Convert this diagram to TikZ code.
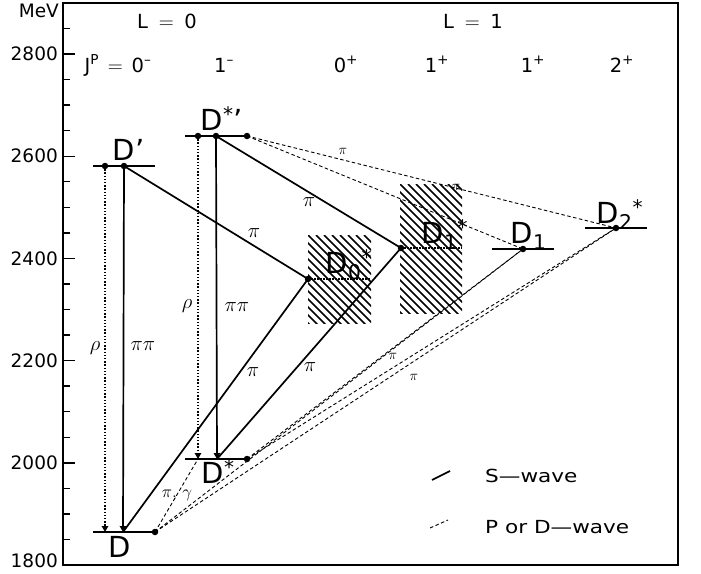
\documentclass[tikz,border=0pt]{standalone}
\usepackage{fontspec}
\setmainfont{DejaVu Sans}
\usepackage{graphicx}
\usetikzlibrary{arrows.meta}
\newcommand{\lvlstar}{\raisebox{8.5pt}{\fontsize{20}{20}\selectfont *}}
\begin{document}
\begin{tikzpicture}[x=1pt,y=-1pt,
  lvl/.style={line width=2.8pt},
  sw/.style={line width=1.7pt},
  pw/.style={line width=0.9pt, dash pattern=on 3.5pt off 2.5pt},
  rhol/.style={line width=1.3pt, dash pattern=on 1.4pt off 1.8pt},
  dotlvl/.style={line width=1.8pt, dash pattern=on 1.6pt off 1.4pt},
  hatch/.style={line width=1.7pt},
  dotn/.style={circle,fill,inner sep=0pt,minimum size=6.5pt},
  arr/.style={-{Triangle[length=6pt,width=6.5pt]}},
  lab/.style={font=\fontsize{29}{31}\selectfont, inner sep=0pt, anchor=base},
  ax/.style={font=\fontsize{18.5}{20}\selectfont, inner sep=0pt},
  hd/.style={font=\fontsize{19.5}{21}\selectfont, inner sep=0pt},
  pil/.style={font=\fontsize{20}{22}\selectfont, inner sep=0pt},
  spil/.style={font=\fontsize{14}{16}\selectfont, inner sep=0pt},
  leg/.style={font=\fontsize{18}{20}\selectfont, inner sep=0pt, anchor=west}
]
\useasboundingbox (0,0) rectangle (701,573);
% frame
\draw[line width=1.8pt] (63,3) rectangle (678,565);
% ticks
\foreach \m in {1850,1900,...,2850} {
  \pgfmathsetmacro\yy{565-(\m-1800)*0.511}
  \draw[line width=1.4pt] (63,\yy) -- (70,\yy);
}
\foreach \m in {2000,2200,...,2800} {
  \pgfmathsetmacro\yy{565-(\m-1800)*0.511}
  \draw[line width=1.4pt] (63,\yy) -- (75,\yy);
  \node[ax,anchor=east] (t\m) at (58,\yy) {\m};
}
\node[ax,anchor=east] (t1800) at (58,561) {1800};
\node[ax,anchor=north east] (mev) at (59,4) {MeV};
% header
\node[hd] (L0) at (167,21) {L\hspace{0.55em}$=$\hspace{0.55em}0};
\node[hd] (L1) at (473,21) {L\hspace{0.55em}$=$\hspace{0.55em}1};
\node[hd,anchor=base] (jp) at (118,72) {J\textsuperscript{P}\hspace{0.45em}$=$\hspace{0.45em}0\textsuperscript{--}};
\node[hd,anchor=base] (j1) at (224,72) {1\textsuperscript{--}};
\node[hd,anchor=base] (j2) at (346,72) {0\textsuperscript{+}};
\node[hd,anchor=base] (j3) at (437,72) {1\textsuperscript{+}};
\node[hd,anchor=base] (j4) at (533,72) {1\textsuperscript{+}};
\node[hd,anchor=base] (j5) at (622,72) {2\textsuperscript{+}};

% level coordinates
\coordinate (Dpa) at (105,166);
\coordinate (Dpb) at (124,166);
\coordinate (Da) at (105,532);
\coordinate (Db) at (123,532);
\coordinate (Dc) at (155,532);
\coordinate (Dspa) at (198,136);
\coordinate (Dspb) at (216,136);
\coordinate (Dspc) at (247,136);
\coordinate (Dsa) at (198,459);
\coordinate (Dsb) at (217,459);
\coordinate (Dsc) at (247,459);
\coordinate (Dzs) at (308,279);
\coordinate (Dos) at (401,248);
\coordinate (Do) at (523,249);
\coordinate (Dts) at (616,228);

% dashed P/D-wave transitions
\draw[pw] (Dspc) -- (Dts);
\draw[pw] (Dspc) -- (Do);
\draw[pw] (Dc) -- (Dsa);
\draw[pw] (Dc) -- (Do);
\draw[pw] (Dc) -- (Dts);
\draw[pw] (Dsc) -- (Do);
\draw[pw] (Dsc) -- (Dts);

% hatched boxes
\begin{scope}
\clip (308,235) rectangle (371,323);
\foreach \k in {-96,-88,...,64} \draw[hatch] (308+\k,235) -- ++(120,120);
\end{scope}
\begin{scope}
\clip (400,184) rectangle (462,313);
\foreach \k in {-136,-128,...,64} \draw[hatch] (400+\k,184) -- ++(150,150);
\end{scope}

% levels
\draw[lvl] (93,166) -- (155,166);
\draw[lvl] (93,532) -- (Dc);
\draw[lvl] (185,136) -- (Dspc);
\draw[lvl] (185,459) -- (Dsc);
\draw[dotlvl] (Dzs) -- (370,279);
\draw[dotlvl] (Dos) -- (462,248);
\draw[lvl] (492,249) -- (554,249);
\draw[lvl] (585,228) -- (647,228);

% vertical transitions
\draw[rhol,arr] (Dpa) -- (Da);
\draw[sw,arr] (Dpb) -- (Db);
\draw[rhol,arr] (Dspa) -- (Dsa);
\draw[sw,arr] (Dspb) -- (Dsb);

% solid S-wave transitions
\draw[sw] (Dpb) -- (Dzs);
\draw[sw] (Dspb) -- (Dos);
\draw[sw] (Db) -- (Dzs);
\draw[sw] (Dsb) -- (Dos);

% dots
\foreach \c in {Dpa,Dpb,Dspa,Dspb,Dspc,Dc,Dsc,Dzs,Dos,Do,Dts}
  \node[dotn] at (\c) {};

% level labels
\node[lab] (lD) at (120,557) {D};
\node[lab] (lDs) at (213,483) {D\rlap{\lvlstar}};
\node[lab] (lDp) at (124,160) {D\rlap{’}};
\node[lab] (lDsp) at (212,130) {D\rlap{\lvlstar’}};
\node[lab] (lDz) at (337,273) {D\rlap{\textsubscript{0}\lvlstar}};
\node[lab] (lDos) at (433,243) {D\rlap{\textsubscript{1}\lvlstar}};
\node[lab] (lDo) at (522,243) {D\rlap{\textsubscript{1}}};
\node[lab] (lDt) at (608,223) {D\rlap{\textsubscript{2}\lvlstar}};

% transition labels
\node[pil] (p1) at (143,346) {$\pi\pi$};
\node[pil] (r1) at (95,348) {$\rho$};
\node[pil] (p2) at (237,307) {$\pi\pi$};
\node[pil] (r2) at (187,306) {$\rho$};
\node[pil] (p3) at (254,233) {$\pi$};
\node[pil] (p4) at (309,202) {$\pi$};
\node[pil] (p5) at (253,372) {$\pi$};
\node[pil] (p6) at (310,367) {$\pi$};
\node[spil] (p7) at (343,151) {$\pi$};
\node[spil] (p8) at (456,187) {$\pi$};
\node[spil] (p9) at (393,356) {$\pi$};
\node[spil] (p10) at (414,377) {$\pi$};
\node[font=\fontsize{16}{18}\selectfont, inner sep=0pt] (pg) at (177,495) {$\pi,\,\gamma$};

% legend
\coordinate (ls1) at (432,480);
\coordinate (ls2) at (450,471);
\coordinate (lp1) at (430,528);
\coordinate (lp2) at (448,520);
\draw[sw] (ls1) -- (ls2);
\draw[pw] (lp1) -- (lp2);
\node[leg] (legS) at (485,476) {\scalebox{1.2}[1]{S—wave}};
\node[leg] (legP) at (485,527) {\scalebox{1.2}[1]{P or D—wave}};
\end{tikzpicture}
\end{document}
